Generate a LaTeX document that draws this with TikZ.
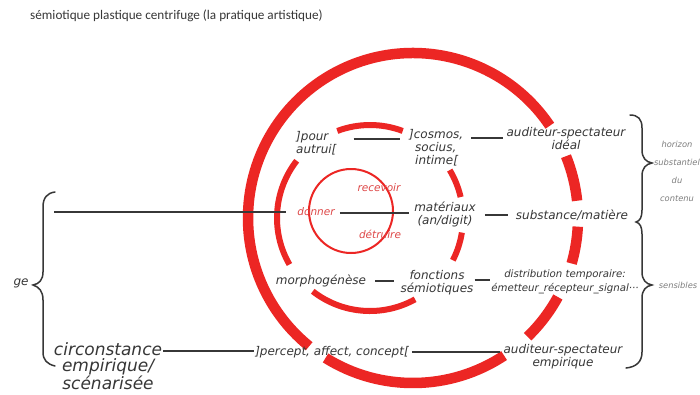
\documentclass[tikz,border=0pt]{standalone}
\usepackage{fontspec}
\newfontfamily\hand{DejaVu Sans}
\newfontfamily\titlefont{Carlito}
\definecolor{ringred}{RGB}{236,38,36}
\definecolor{txt}{RGB}{55,55,55}
\definecolor{redtxt}{RGB}{222,72,72}
\definecolor{lightt}{RGB}{125,125,125}
\tikzset{
 lbl/.style={font=\hand\itshape\fontsize{12}{13}\selectfont, text=txt, align=center, inner sep=1pt},
 smalllbl/.style={font=\hand\itshape\fontsize{10.2}{14}\selectfont, text=txt, align=center, inner sep=1pt},
 biglbl/.style={font=\hand\itshape\fontsize{17}{16}\selectfont, text=txt, align=center, inner sep=1pt},
 redlbl/.style={font=\hand\itshape\fontsize{10.5}{11}\selectfont, text=redtxt, inner sep=1pt},
 side/.style={font=\hand\itshape\fontsize{8.3}{18}\selectfont, text=lightt, align=center, inner sep=1pt},
 titlelbl/.style={font=\titlefont\fontsize{13.2}{15}\selectfont, text=txt, inner sep=0pt},
 link/.style={draw=txt, line width=1.7pt},
 ring/.style={draw=ringred, line width=10.5pt},
 midring/.style={draw=ringred, line width=6pt},
 innerring/.style={draw=ringred, line width=2pt},
 bracepath/.style={draw=txt, line width=1.5pt, line cap=round},
}
\begin{document}
\begin{tikzpicture}[x=1pt,y=-1pt]
\fill[white] (0,0) rectangle (700,394);
\useasboundingbox (0,0) rectangle (700,394);

% outer ring (centre 413,218, r 165)
\draw[ring] (413,218) ++(-34:165) arc[start angle=-34, end angle=-231, radius=165];
\draw[ring] (413,218) ++(-238:165) arc[start angle=-238, end angle=-303.5, radius=165];
\draw[ring] (413,218) ++(46:165) arc[start angle=46, end angle=28.6, radius=165];
\draw[ring] (413,218) ++(16:165) arc[start angle=16, end angle=3, radius=165];
\draw[ring] (413,218) ++(-6:165) arc[start angle=-6, end angle=-22, radius=165];

% middle ring (centre 370,218, r 93)
\draw[midring] (370,218) ++(-69.4:93) arc[start angle=-69.4, end angle=-110.6, radius=93];
\draw[midring] (370,218) ++(-142:93) arc[start angle=-142, end angle=-210, radius=93];
\draw[midring] (370,218) ++(-232:93) arc[start angle=-232, end angle=-299, radius=93];
\draw[midring] (370,218) ++(-13:93) arc[start angle=-13, end angle=-31, radius=93];
\draw[midring] (370,218) ++(27:93) arc[start angle=27, end angle=9, radius=93];

% inner circle
\draw[innerring] (351,211) circle[radius=42];

% title
\node[titlelbl, anchor=west] (title) at (30,16) {sémiotique plastique centrifuge (la pratique artistique)};

% labels
\node[lbl, anchor=west, align=left] (pour) at (295,143) {]pour\\autrui[};
\node[lbl, anchor=west, align=left] (cosmos) at (408,148) {]cosmos,\\\hspace{0.5em}socius,\\\hspace{0.5em}intime[};
\node[lbl] (ideal) at (566,139) {auditeur-spectateur\\idéal};
\node[redlbl] (donner) at (316,212) {donner};
\node[redlbl] (recevoir) at (379,188) {recevoir};
\node[redlbl] (detruire) at (380,234) {détruire};
\node[lbl] (mat) at (445,214) {matériaux\\(an/digit)};
\node[lbl] (subst) at (572,215) {substance/matière};
\node[lbl] (morpho) at (321,281) {morphogénèse};
\node[lbl] (fonc) at (437,283) {fonctions\\sémiotiques};
\node[smalllbl] (distr) at (565,282) {distribution temporaire:\\émetteur\_récepteur\_signal···};
\node[biglbl] (circ) at (108,366) {circonstance\\empirique/\\scénarisée};
\node[lbl] (percept) at (332,352) {]percept, affect, concept[};
\node[lbl] (empir) at (563,357) {auditeur-spectateur\\empirique};
\node[side] (horizon) at (677,171) {horizon\\substantiel\\du\\contenu};
\node[side] (sens) at (678,285) {sensibles};
\node[lbl] (ge) at (21,283) {ge};

% connectors
\coordinate (lstart) at (54,212);
\draw[link, shorten >=10pt] (lstart) -- (donner.west |- lstart);
\draw[link, shorten <=16pt, shorten >=8pt] (pour.east |- 0,139) -- (cosmos.west |- 0,139);
\draw[link, shorten <=7pt, shorten >=2pt] (cosmos.east |- 0,138) -- (ideal.west |- 0,138);
\draw[link, shorten <=4pt, shorten >=4pt] (donner.east |- 0,213) -- (mat.west |- 0,213);
\draw[link, shorten <=8pt, shorten >=7pt] (mat.east |- 0,215) -- (subst.west |- 0,215);
\draw[link, shorten <=8pt, shorten >=5pt] (morpho.east |- 0,281) -- (fonc.west |- 0,281);
\draw[link] (fonc.east |- 0,280) -- (distr.west |- 0,280);
\draw[link] (circ.east |- 0,351) -- (percept.west |- 0,351);
\draw[link, shorten <=2pt, shorten >=2pt] (percept.east |- 0,352) -- (empir.west |- 0,352);

% left brace
\draw[bracepath] (55,192) .. controls (47,193) and (43,198) .. (43,207) -- (43,272)
  .. controls (43,280) and (39,284) .. (33,285) .. controls (39,287) and (43,291) .. (43,300)
  -- (43,352) .. controls (43,360) and (47,364) .. (55,366);

% right braces
\draw[bracepath] (630,115) .. controls (638,115) and (642,119) .. (642,128) -- (642,150)
  .. controls (642,158) and (646,162) .. (652,163) .. controls (646,164) and (642,168) .. (642,176)
  -- (642,210) .. controls (642,217) and (640,221) .. (636,222) .. controls (640,223) and (642,227) .. (642,234)
  -- (642,272) .. controls (642,280) and (646,284) .. (652,285) .. controls (646,286) and (642,290) .. (642,298)
  -- (642,352) .. controls (642,362) and (636,367) .. (626,368);
\end{tikzpicture}
\end{document}
